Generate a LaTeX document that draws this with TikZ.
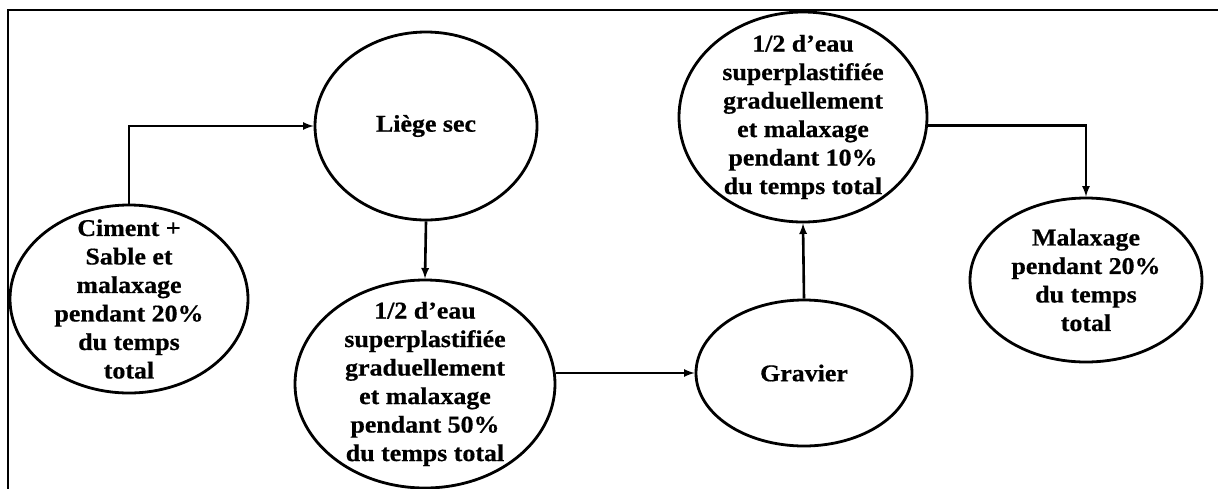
\documentclass[tikz,border=0pt]{standalone}
\usepackage{fontspec}
\setmainfont{Liberation Serif}[FakeStretch=1.08,BoldFeatures={FakeBold=0.6}]
\usetikzlibrary{shapes.geometric}

\begin{document}
\begin{tikzpicture}[
        x=1pt,y=-1pt,
        etape/.style={ellipse,draw,line width=2.8pt,inner sep=0pt},
        texte/.style={align=center,inner sep=0pt,
          font=\fontsize{24}{28.5}\selectfont\bfseries},
        fleche/.style={line width=2.6pt,-latex}
      ]
      \clip (0,0) rectangle (1218,488);
      \draw[line width=2.6pt] (8,10) rectangle (1240,520);
      \node (ciment) [etape,minimum width=238pt,minimum height=188pt,
        label={[texte]center:Ciment +\\Sable et\\malaxage\\pendant 20\%\\du temps\\total}]
        at (129,299) {};
      \node (liege) [etape,minimum width=222pt,minimum height=188pt,
        label={[texte]center:Liège sec}] at (426,126) {};
      \node (eau1) [etape,minimum width=260pt,minimum height=208pt,
        label={[texte]center:1/2 d’eau\\superplastifiée\\graduellement\\et malaxage\\pendant 50\%\\du temps total}]
        at (425,384) {};
      \node (gravier) [etape,minimum width=216pt,minimum height=146pt,
        label={[texte]center:Gravier}] at (804,373) {};
      \node (eau2) [etape,minimum width=248pt,minimum height=210pt,
        label={[texte]center:1/2 d’eau\\superplastifiée\\graduellement\\et malaxage\\pendant 10\%\\du temps total}]
        at (803,117) {};
      \node (malax) [etape,minimum width=232pt,minimum height=164pt,
        label={[texte]center:Malaxage\\pendant 20\%\\du temps\\total}] at (1086,280) {};
      \draw[fleche] (ciment.north) |- (liege.west);
      \draw[fleche] (liege.south) -- (eau1.north);
      \draw[fleche] (eau1.east |- gravier.west) -- (gravier.west);
      \draw[fleche] (gravier.north) -- (eau2.south);
      \draw[fleche] (eau2.-4) -| (malax.north);
    \end{tikzpicture}
\end{document}
